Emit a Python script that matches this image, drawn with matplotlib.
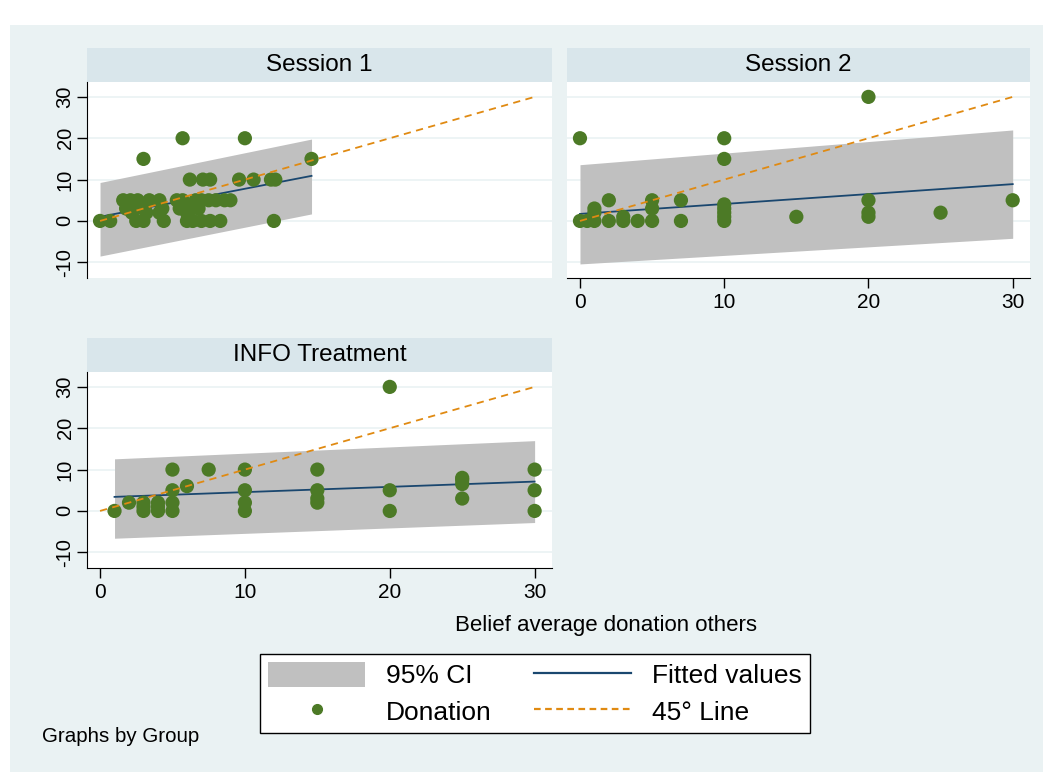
"""Stata-style twoway panels: donation vs belief, by group."""
import matplotlib
matplotlib.use("Agg")
import matplotlib.pyplot as plt
import matplotlib.patches as mpatches
from matplotlib.lines import Line2D

plt.rcParams.update({
    "font.family": ["Liberation Sans", "DejaVu Sans"],
    "font.size": 14,
    "axes.unicode_minus": False,
})

# --- data ---
panel_titles = ["Session 1", "Session 2", "INFO Treatment"]

s1_x = [1.6, 2.1, 2.6, 3.4, 4.1, 5.3, 5.7, 6.6, 7.0, 7.5, 8.0, 8.6, 9.0,
        1.8, 2.4, 3.0, 4.3, 5.5, 6.3, 6.8,
        2.2, 3.2, 4.1, 6.0,
        0.0, 0.7, 2.5, 3.0, 4.4, 6.0, 6.4, 7.0, 7.6, 8.3, 12.0,
        6.2, 7.1, 7.6, 9.6, 10.6, 11.8, 12.1,
        3.0, 14.6, 5.7, 10.0]
s1_y = [5, 5, 5, 5, 5, 5, 5, 5, 5, 5, 5, 5, 5,
        3, 3, 3, 3, 3, 3, 3,
        2, 2, 2, 2,
        0, 0, 0, 0, 0, 0, 0, 0, 0, 0, 0,
        10, 10, 10, 10, 10, 10, 10,
        15, 15, 20, 20]

s2_x = [0, 0, 0.5, 1, 1, 1, 2, 2, 3, 3, 4, 5, 5, 5, 7, 7,
        10, 10, 10, 10, 10, 10, 10, 15, 20, 20, 20, 20, 25, 30]
s2_y = [20, 0, 0, 0, 3, 2, 5, 0, 1, 0, 0, 5, 3, 0, 5, 0,
        20, 15, 0, 1, 2, 3, 4, 1, 30, 5, 2, 1, 2, 5]

info_x = [1, 2, 3, 3, 3, 4, 4, 4, 5, 5, 5, 5, 6, 7.5,
          10, 10, 10, 10, 15, 15, 15, 15, 20, 20, 20,
          25, 25, 25, 25, 30, 30, 30]
info_y = [0, 2, 2, 1, 0, 2, 1, 0, 10, 5, 2, 0, 6, 10,
          10, 5, 2, 0, 10, 5, 3, 2, 30, 5, 0,
          8, 7.5, 6.5, 3, 10, 5, 0]

# fitted line and 95% CI at the ends of each group's x range
s1_fit_x, s1_fit_y = [0, 14.6], [1.0, 10.9]
s1_ci_lo, s1_ci_hi = [-8.5, 1.7], [9.3, 19.8]
s2_fit_x, s2_fit_y = [0, 30], [1.7, 8.9]
s2_ci_lo, s2_ci_hi = [-10.4, -4.2], [13.6, 22.0]
info_fit_x, info_fit_y = [1, 30], [3.4, 7.1]
info_ci_lo, info_ci_hi = [-6.6, -2.8], [12.6, 17.0]

line45_x = [0, 30]
line45_y = [0, 30]

ticks = [0, 10, 20, 30]
yticks = [-10, 0, 10, 20, 30]

# --- styling ---
BG = "#EAF2F3"
STRIP = "#D9E6EB"
GREEN = "#4C7A26"
NAVY = "#1A476F"
ORANGE = "#E08A12"
CI_GRAY = "#C0C0C0"

W, H = 1053, 774
fig = plt.figure(figsize=(W / 100, H / 100), dpi=100, facecolor="white")
bg = mpatches.Rectangle((10 / W, 1 - 772 / H), 1033 / W, 747 / H,
                        transform=fig.transFigure, facecolor=BG,
                        edgecolor="none", zorder=-10)
fig.add_artist(bg)


def px_box(x0, y0, x1, y1):
    return [x0 / W, 1 - y1 / H, (x1 - x0) / W, (y1 - y0) / H]


def panel(box, title, xs, ys, fx, fy, lo, hi, show_x, show_y):
    x0, y0, x1, y1 = box
    strip = fig.add_axes(px_box(x0, y0 - 34, x1, y0))
    strip.set_facecolor(STRIP)
    strip.set_xticks([])
    strip.set_yticks([])
    for s in strip.spines.values():
        s.set_visible(False)
    strip.text(0.5, 0.5, title, ha="center", va="center", fontsize=17.5,
               transform=strip.transAxes)

    ax = fig.add_axes(px_box(x0, y0, x1, y1))
    ax.set_facecolor("white")
    ax.fill_between(fx, lo, hi, color=CI_GRAY, linewidth=0, zorder=1)
    ax.plot(fx, fy, color=NAVY, linewidth=1.3, zorder=2)
    ax.scatter(xs, ys, s=105, color=GREEN, edgecolors="none", zorder=3)
    ax.plot(line45_x, line45_y, color=ORANGE, linewidth=1.3,
            linestyle=(0, (4, 3)), zorder=4)

    ax.set_xlim(-0.9, 31.2)
    ax.set_ylim(-13.8, 33.6)
    ax.set_yticks(yticks)
    ax.set_xticks(ticks)
    ax.grid(axis="y", color=BG, linewidth=1.2, zorder=0)
    ax.set_axisbelow(True)
    for s in ["top", "right"]:
        ax.spines[s].set_visible(False)
    ax.spines["left"].set_visible(show_y)
    ax.spines["bottom"].set_visible(show_x)
    ax.tick_params(axis="y", labelrotation=90, length=7 if show_y else 0,
                   width=1, pad=2, labelleft=show_y, labelsize=14.5)
    ax.tick_params(axis="x", length=7 if show_x else 0, width=1, pad=4,
                   labelbottom=show_x, labelsize=15)
    for lab in ax.get_yticklabels():
        lab.set_va("center")
    return ax


panel((87, 82, 552, 278), panel_titles[0], s1_x, s1_y, s1_fit_x, s1_fit_y,
      s1_ci_lo, s1_ci_hi, show_x=False, show_y=True)
panel((567, 82, 1030, 278), panel_titles[1], s2_x, s2_y, s2_fit_x, s2_fit_y,
      s2_ci_lo, s2_ci_hi, show_x=True, show_y=False)
panel((87, 372, 552, 568), panel_titles[2], info_x, info_y, info_fit_x,
      info_fit_y, info_ci_lo, info_ci_hi, show_x=True, show_y=True)

fig.text(606 / W, 1 - 625 / H, "Belief average donation others",
         ha="center", va="center", fontsize=16)

handles = [
    mpatches.Patch(facecolor=CI_GRAY, edgecolor="none", label="95% CI"),
    Line2D([], [], marker="o", linestyle="none", color=GREEN,
           markersize=7, label="Donation"),
    Line2D([], [], color=NAVY, linewidth=1.6, label="Fitted values"),
    Line2D([], [], color=ORANGE, linewidth=1.6, linestyle=(0, (3, 2)),
           label="45\u00b0 Line"),
]
leg = fig.legend(handles=handles, ncol=2, loc="center",
                 bbox_to_anchor=(535 / W, 1 - 693.5 / H), fontsize=19,
                 frameon=True, fancybox=False, edgecolor="black",
                 facecolor="white", framealpha=1,
                 handlelength=3.67, handleheight=1.05, handletextpad=0.8,
                 columnspacing=1.6, borderpad=0.3, labelspacing=0.38)
leg.get_frame().set_linewidth(1.0)

fig.text(42 / W, 1 - 737 / H, "Graphs by Group", ha="left", va="center",
         fontsize=14.8)

fig.savefig("out.png", dpi=100, facecolor="white")
